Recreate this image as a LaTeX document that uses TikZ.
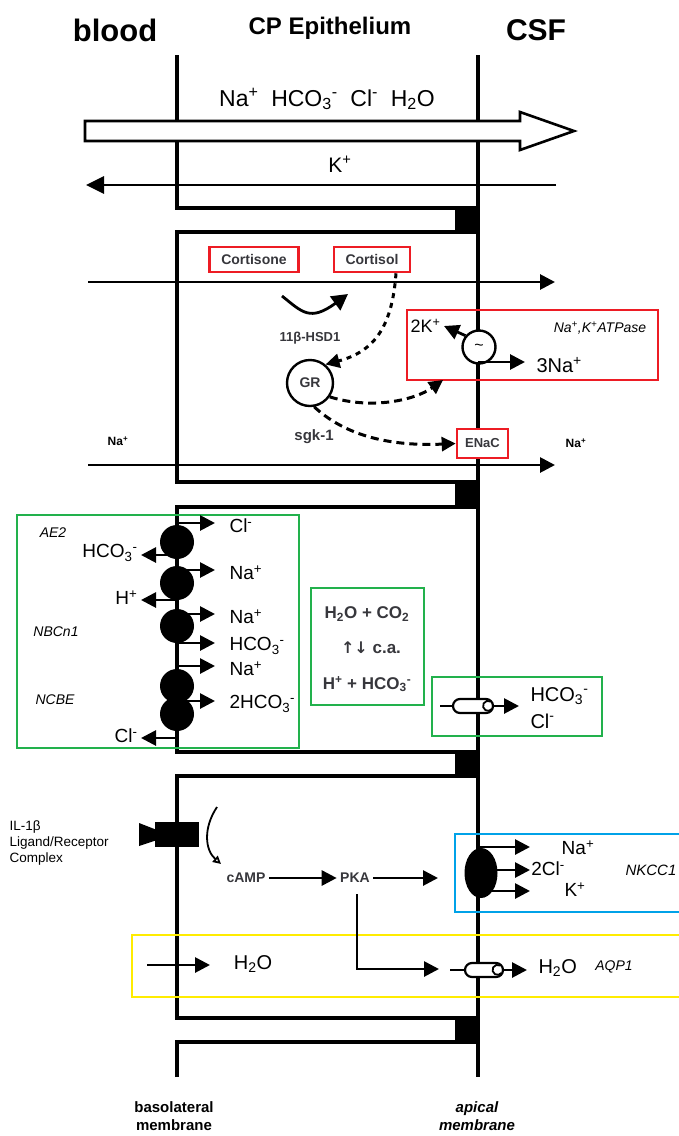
\documentclass[tikz,border=0pt]{standalone}
\usepackage{fontspec}
\setmainfont{Liberation Sans}
\newfontfamily\djv{DejaVu Sans}
\usetikzlibrary{arrows.meta,calc}
\definecolor{pred}{RGB}{237,28,36}
\definecolor{pgreen}{RGB}{34,177,76}
\definecolor{pblue}{RGB}{0,162,232}
\definecolor{pyellow}{RGB}{255,236,0}
\definecolor{tgrey}{RGB}{55,55,60}
\newcommand{\spp}[1]{\textsuperscript{#1}}
\newcommand{\sbb}[1]{\textsubscript{#1}}
\newcommand{\fs}[1]{\fontsize{#1}{#1}\selectfont}
\begin{document}
\begin{tikzpicture}[x=1pt,y=-1pt,
  mem/.style={line width=3.2pt},
  arr/.style={line width=2.8pt,-{Triangle[length=15pt,width=15pt]}},
  dsh/.style={line width=3pt,dash pattern=on 8pt off 5pt,-{Triangle[length=14pt,width=14pt]}},
  rbox/.style={draw=pred,line width=2.6pt,fill=white,inner sep=0pt},
  cbox/.style={line width=2.6pt},
  capsule/.style={draw,fill=white,line width=2.2pt,rounded corners=7pt,minimum width=40pt,minimum height=14pt,inner sep=0pt},
  ion/.style={font=\fs{19}},
  ital/.style={font=\itshape\fs{14}},
  small/.style={font=\bfseries\fs{13}}
]
\useasboundingbox (0,0) rectangle (679,1136);
% ---- headings
\node[font=\bfseries\fs{31}] (blood) at (115,30) {blood};
\node[font=\bfseries\fs{24}] (cpe) at (330,28) {CP Epithelium};
\node[font=\bfseries\fs{30}] (csf) at (536,30) {CSF};
% ---- membranes and junctions
\draw[mem] (177,55) -- (177,208) -- (478,208) -- (478,55);
\fill (455,208) rectangle (479.6,232);
\draw[mem] (177,232) rectangle (478,482);
\fill (455,482) rectangle (479.6,507);
\draw[mem] (177,507) rectangle (478,752);
\fill (455,752) rectangle (479.6,776);
\draw[mem] (177,776) rectangle (478,1018);
\fill (455,1018) rectangle (479.6,1042);
\draw[mem] (177,1077) -- (177,1042) -- (478,1042) -- (478,1077);
% ---- cell 1
\node[font=\fs{23}] (ions) at (327,99) {Na\spp{+}\ \ HCO\sbb{3}\spp{-}\ \ Cl\spp{-}\ \ H\sbb{2}O};
\draw[line width=2.6pt,fill=white] (85,121) -- (520,121) -- (520,112) -- (574,131) -- (520,150) -- (520,141) -- (85,141) -- cycle;
\node[font=\fs{21}] (kp) at (340,164) {K\spp{+}};
\coordinate (ks) at (556,185);
\coordinate (ke) at (86,185);
\draw[line width=2.8pt,-{Triangle[length=18pt,width=17pt]}] (ks) -- (ke);
% ---- cell 2
\node[rbox,minimum width=89pt,minimum height=25pt,font=\bfseries\fs{14},text=tgrey] (cortisone) at (254,259.5) {Cortisone};
\node[rbox,minimum width=76pt,minimum height=25pt,font=\bfseries\fs{14},text=tgrey] (cortisol) at (372,259.5) {Cortisol};
\coordinate (t2s) at (88,282);
\coordinate (t2e) at (555,282);
\draw[arr] (t2s) -- (t2e);
\coordinate (hs) at (282,296);
\coordinate (he) at (348,294);
\draw[line width=2.8pt,-{Triangle[length=16pt,width=17pt]}] (hs) .. controls (302,312) and (310,322) .. (he);
\node[small,text=tgrey] (hsd) at (310,338) {11β-HSD1};
\node[circle,draw,line width=2.4pt,minimum size=46pt,inner sep=0pt,font=\bfseries\fs{14},text=tgrey] (gr) at (310,383) {GR};
\draw[line width=3pt,dash pattern=on 5pt off 5pt,-{Triangle[length=14pt,width=14pt]}] ($(cortisol.south)+(24,0)$) .. controls (392,330) and (372,352) .. (gr.50);
\draw[draw=pred,line width=2.6pt] (407,310) rectangle (658,380);
\node[circle,draw,fill=white,line width=2.4pt,minimum size=33pt,inner sep=0pt,font=\fs{16}] (pump) at (479,347) {\textasciitilde};
\coordinate (k2) at (444,326);
\coordinate (na3) at (525,362);
\draw[arr] (pump.140) -- (k2);
\draw[arr] (pump.south) |- (na3);
\node[anchor=east,font=\fs{18}] (k2l) at (444,326) {2K\spp{+}};
\node[anchor=west,font=\fs{20}] (na3l) at (533,365) {3Na\spp{+}};
\node[font=\itshape\fs{14}] (atp) at (600,328) {Na\spp{+},K\spp{+}ATPase};
\node[rbox,minimum width=51pt,minimum height=29pt,font=\bfseries\fs{13},text=tgrey] (enac) at (482.5,443.5) {ENaC};
\coordinate (pin) at (443,380);
\draw[dsh] (gr.-35) .. controls (372,410) and (415,400) .. (pin);
\draw[dsh] (gr.-80) .. controls (350,440) and (400,446) .. (enac.west);
\node[small,font=\bfseries\fs{15},text=tgrey] (sgk) at (314,437) {sgk-1};
\coordinate (b2s) at (88,465);
\coordinate (b2e) at (555,465);
\draw[arr] (b2s) -- (b2e);
\node[small,font=\bfseries\fs{12}] (nal) at (118,441) {Na\spp{+}};
\node[small,font=\bfseries\fs{12}] (nar) at (576,443) {Na\spp{+}};
% ---- cell 3
\draw[cbox,draw=pgreen] (17,515) rectangle (299,748);
\foreach \n/\y in {c1/542,c2/583,c3/626,c4/686,c5/714}
  \node[circle,fill,minimum size=34pt,inner sep=0pt] (\n) at (177,\y) {};
\foreach \y/\t [count=\i] in {523/{Cl\spp{-}},570/{Na\spp{+}},614/{Na\spp{+}},643/{HCO\sbb{3}\spp{-}},666/{Na\spp{+}},701/{2HCO\sbb{3}\spp{-}}}{
  \coordinate (rs\i) at (177,\y);
  \coordinate (re\i) at (215,\y);
  \draw[arr] (rs\i) -- (re\i);
  \node[ion,anchor=west] (rl\i) at (226,\y+3) {\t};
}
\foreach \y/\t [count=\i] in {555/{HCO\sbb{3}\spp{-}},600/{H\spp{+}},738/{Cl\spp{-}}}{
  \coordinate (ls\i) at (177,\y);
  \coordinate (le\i) at (141,\y);
  \draw[arr] (ls\i) -- (le\i);
  \node[ion,anchor=east] (ll\i) at (141,\y-2) {\t};
}
\node[ital] (ae2) at (53,533) {AE2};
\node[ital] (nbc) at (56,632) {NBCn1};
\node[ital] (ncbe) at (55,700) {NCBE};
\draw[cbox,draw=pgreen] (311,588) rectangle (424,705);
\node[font=\bfseries\fs{17},text=tgrey] (eq1) at (367,614) {H\sbb{2}O + CO\sbb{2}};
\node[font=\bfseries\fs{17},text=tgrey] (eq2) at (371,648) {{\djv\fs{16}↑↓} c.a.};
\node[font=\bfseries\fs{17},text=tgrey] (eq3) at (367,684) {H\spp{+} + HCO\sbb{3}\spp{-}};
\draw[cbox,draw=pgreen] (432,677) rectangle (602,736);
\coordinate (ch1s) at (440,706);
\node[capsule] (ch1) at (473,706) {};
\coordinate (ch1e) at (519,706);
\draw[line width=2.2pt] (ch1s) -- (ch1.west);
\draw[line width=1.8pt] (490.5,701.5) arc[start angle=60,end angle=320,radius=5pt];
\draw[arr] (ch1.east) -- (ch1e);
\node[ion,font=\fs{20}] [anchor=west] (hco3r) at (527,696) {HCO\sbb{3}\spp{-}};
\node[ion,font=\fs{20}] [anchor=west] (clr) at (527,721) {Cl\spp{-}};
% ---- cell 4
\fill (139,823) -- (157,830) -- (157,840) -- (139,846) -- cycle;
\fill (155,822) rectangle (199,847);
\node[font=\fontsize{13.5}{16}\selectfont,align=left,anchor=west] (il) at (6,843) {IL-1β\\Ligand/Receptor\\Complex};
\coordinate (cs) at (217,807);
\coordinate (ce) at (221,864);
\draw[line width=1.8pt,-{Triangle[length=8pt,width=8pt,open]}] (cs) .. controls (203,828) and (205,850) .. (ce);
\node[small,font=\bfseries\fs{14},text=tgrey] (camp) at (246,878) {cAMP};
\node[small,font=\bfseries\fs{14},text=tgrey] (pka) at (355,878) {PKA};
\draw[arr] (camp.east) -- (pka.west);
\coordinate (pkae) at (438,878);
\draw[arr] (pka.east) -- (pkae);
\draw[cbox,draw=pblue] (455,834) rectangle (682,912);
\fill (481,873) ellipse [x radius=16.5pt,y radius=25pt];
\foreach \y/\i in {847/1,870/2,891/3}{
  \coordinate (ns\i) at (480,\y);
  \coordinate (ne\i) at (530,\y);
  \draw[arr] (ns\i) -- (ne\i);
}
\node[font=\fs{19}] (nkna) at (578,848) {Na\spp{+}};
\node[font=\fs{19}] (nkcl) at (548,869) {2Cl\spp{-}};
\node[font=\fs{19}] (nkk) at (575,890) {K\spp{+}};
\node[ital,font=\itshape\fs{15}] (nkcc) at (651,870) {NKCC1};
\draw[cbox,draw=pyellow] (132,935) rectangle (682,997);
\coordinate (ws) at (147,965);
\coordinate (we) at (210,965);
\draw[arr] (ws) -- (we);
\node[ion,font=\fs{20}] (h2ol) at (253,964) {H\sbb{2}O};
\coordinate (pkd) at (357,969);
\coordinate (aqin) at (439,969);
\draw[arr] ($(pka.south)+(2,8)$) -- (pkd) -- (aqin);
\coordinate (ch2s) at (450,970);
\node[capsule,minimum width=38pt] (ch2) at (484,970) {};
\coordinate (ch2e) at (527,970);
\draw[line width=2.2pt] (ch2s) -- (ch2.west);
\draw[line width=1.8pt] (500,965.5) arc[start angle=60,end angle=320,radius=5pt];
\draw[arr] (ch2.east) -- (ch2e);
\node[ion,font=\fs{20},anchor=west] (h2or) at (535,968) {H\sbb{2}O};
\node[ital,font=\itshape\fs{14}] (aqp) at (614,967) {AQP1};
% ---- bottom labels
\node[font=\bfseries\fontsize{15}{18}\selectfont,align=center] (baso) at (174,1116) {basolateral\\membrane};
\node[font=\bfseries\itshape\fontsize{15}{18}\selectfont,align=center] (apic) at (477,1116) {apical\\membrane};
\end{tikzpicture}
\end{document}
